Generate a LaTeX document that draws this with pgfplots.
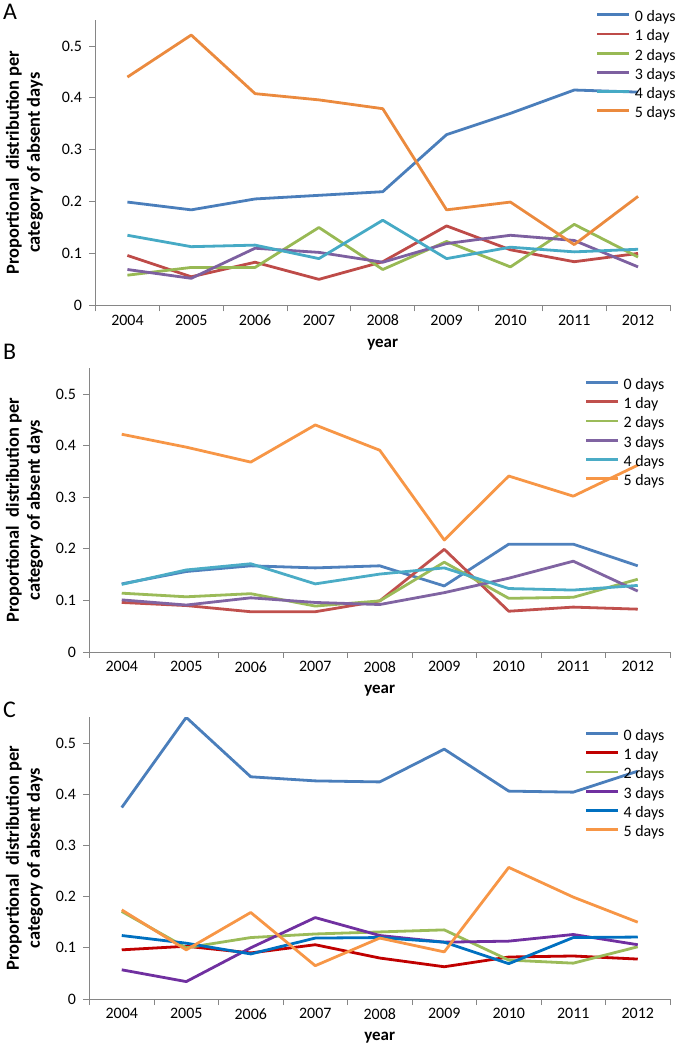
\documentclass[border=0pt]{standalone}
\usepackage{pgfplots}
\pgfplotsset{compat=1.18}
\usepackage{pgfplotstable}
\usepackage{fontspec}
\setmainfont{Carlito}

\definecolor{aA0}{HTML}{4A7EBB}
\definecolor{aA1}{HTML}{BE4B48}
\definecolor{aA2}{HTML}{98B954}
\definecolor{aA3}{HTML}{7D60A0}
\definecolor{aA4}{HTML}{46AAC5}
\definecolor{aA5}{HTML}{EB8A3E}
\definecolor{bB0}{HTML}{4F81BD}
\definecolor{bB1}{HTML}{C0504D}
\definecolor{bB2}{HTML}{9BBB59}
\definecolor{bB3}{HTML}{8064A2}
\definecolor{bB4}{HTML}{4BACC6}
\definecolor{bB5}{HTML}{F79646}
\definecolor{cC0}{HTML}{4A7EBB}
\definecolor{cC1}{HTML}{C00000}
\definecolor{cC2}{HTML}{9BBB59}
\definecolor{cC3}{HTML}{7030A0}
\definecolor{cC4}{HTML}{0070C0}
\definecolor{cC5}{HTML}{F79646}
\definecolor{axgray}{HTML}{868686}

\pgfplotstableread{
x d0 d1 d2 d3 d4 d5
0 0.199 0.096 0.058 0.069 0.135 0.440
1 0.184 0.055 0.073 0.052 0.113 0.521
2 0.205 0.083 0.073 0.110 0.116 0.408
3 0.212 0.050 0.150 0.102 0.090 0.396
4 0.219 0.084 0.069 0.083 0.164 0.379
5 0.329 0.153 0.123 0.119 0.090 0.184
6 0.370 0.107 0.074 0.135 0.112 0.199
7 0.415 0.084 0.156 0.125 0.103 0.117
8 0.411 0.100 0.093 0.074 0.108 0.210
}\tabA
\pgfplotstableread{
x d0 d1 d2 d3 d4 d5
0 0.132 0.096 0.114 0.101 0.131 0.422
1 0.156 0.090 0.107 0.091 0.159 0.397
2 0.167 0.078 0.113 0.105 0.171 0.368
3 0.163 0.078 0.089 0.096 0.132 0.440
4 0.167 0.099 0.099 0.092 0.151 0.391
5 0.128 0.199 0.174 0.115 0.163 0.217
6 0.209 0.079 0.104 0.143 0.123 0.341
7 0.209 0.087 0.106 0.176 0.120 0.302
8 0.167 0.083 0.141 0.118 0.129 0.362
}\tabB
\pgfplotstableread{
x d0 d1 d2 d3 d4 d5
0 0.374 0.096 0.171 0.057 0.124 0.174
1 0.550 0.103 0.100 0.034 0.109 0.096
2 0.434 0.090 0.120 0.100 0.088 0.169
3 0.426 0.106 0.127 0.159 0.119 0.065
4 0.424 0.080 0.131 0.124 0.120 0.119
5 0.488 0.063 0.135 0.111 0.111 0.092
6 0.406 0.082 0.076 0.113 0.069 0.257
7 0.404 0.084 0.070 0.126 0.120 0.199
8 0.445 0.078 0.102 0.106 0.121 0.150
}\tabC

\pgfplotsset{
  panel/.style={
    anchor=south west, scale only axis,
    xmin=-0.5, xmax=8.5, ymin=0, ymax=0.55,
    axis x line=bottom, axis y line=left,
    axis line style={-, draw=axgray, line width=0.8bp},
    xtick={0,...,8},
    xticklabels={2004,2005,2006,2007,2008,2009,2010,2011,2012},
    minor xtick={-0.5,0.5,1.5,2.5,3.5,4.5,5.5,6.5,7.5,8.5},
    major x tick style={draw=none},
    tick style={draw=axgray, line width=0.8bp},
    tick align=outside,
    major tick length=6bp, minor tick length=6bp,
    ytick={0,0.1,0.2,0.3,0.4,0.5},
    yticklabels={0,0.1,0.2,0.3,0.4,0.5},
    tick label style={font=\fontsize{16}{19}\selectfont, text=black},
    yticklabel style={xshift=-4bp},
    /pgf/number format/assume math mode=true,
    xlabel={year},
    xlabel style={font=\bfseries\fontsize{17}{19}\selectfont, at={(axis description cs:0.5,0)}, anchor=center, yshift=-39bp},
    ylabel style={font=\bfseries\fontsize{18.5}{21}\selectfont, align=center, anchor=center},
    ylabel={Proportional\ \ distribution per\\category of absent days},
    legend cell align=left,
    legend image code/.code={\draw[#1, line width=2.8bp] (0bp,4.5bp) -- (32bp,4.5bp);},
    legend style={draw=none, fill=none, inner sep=0pt, column sep=4bp, row sep=0pt,
      font=\fontsize{16}{19}\selectfont,
      nodes={inner sep=0pt, text height=12bp, text depth=7.2bp}},
    every axis plot post/.append style={line width=2.8bp, line join=round},
  }
}

\begin{document}
\begin{tikzpicture}
\useasboundingbox (0,0) rectangle (675bp,1047bp);
% Panel A
\begin{axis}[panel, at={(95.5bp,741.7bp)}, width=574.5bp, height=285.3bp,
  ylabel style={at={(axis description cs:-0.1236,0.5)}},
  legend style={at={(axis description cs:0.871,1.0365)}, anchor=north west}]
\addplot[color=aA0] table[x=x,y=d0]{\tabA};
\addplot[color=aA1] table[x=x,y=d1]{\tabA};
\addplot[color=aA2] table[x=x,y=d2]{\tabA};
\addplot[color=aA3] table[x=x,y=d3]{\tabA};
\addplot[color=aA4] table[x=x,y=d4]{\tabA};
\addplot[color=aA5] table[x=x,y=d5]{\tabA};
\legend{0 days,1 day,2 days,3 days,4 days,5 days}
\end{axis}
\node[font=\fontsize{24}{26}\selectfont, anchor=base west, inner sep=0pt] at (3bp,1047bp-19.3bp) {A};
% Panel B
\begin{axis}[panel, at={(89.5bp,395bp)}, width=580.5bp, height=283.8bp,
  ylabel style={at={(axis description cs:-0.112,0.5)}},
  legend style={at={(axis description cs:0.853,0.968)}, anchor=north west}]
\addplot[color=bB0] table[x=x,y=d0]{\tabB};
\addplot[color=bB1] table[x=x,y=d1]{\tabB};
\addplot[color=bB2] table[x=x,y=d2]{\tabB};
\addplot[color=bB3] table[x=x,y=d3]{\tabB};
\addplot[color=bB4] table[x=x,y=d4]{\tabB};
\addplot[color=bB5] table[x=x,y=d5]{\tabB};
\legend{0 days,1 day,2 days,3 days,4 days,5 days}
\end{axis}
\node[font=\fontsize{24}{26}\selectfont, anchor=base west, inner sep=0pt] at (3bp,1047bp-360bp) {B};
% Panel C
\begin{axis}[panel, at={(89.5bp,48bp)}, width=580.5bp, height=281.6bp,
  ylabel style={at={(axis description cs:-0.112,0.5)}},
  legend style={at={(axis description cs:0.853,0.961)}, anchor=north west}]
\addplot[color=cC0] table[x=x,y=d0]{\tabC};
\addplot[color=cC1] table[x=x,y=d1]{\tabC};
\addplot[color=cC2] table[x=x,y=d2]{\tabC};
\addplot[color=cC3] table[x=x,y=d3]{\tabC};
\addplot[color=cC4] table[x=x,y=d4]{\tabC};
\addplot[color=cC5] table[x=x,y=d5]{\tabC};
\legend{0 days,1 day,2 days,3 days,4 days,5 days}
\end{axis}
\node[font=\fontsize{24}{26}\selectfont, anchor=base west, inner sep=0pt] at (3bp,1047bp-718bp) {C};
\end{tikzpicture}
\end{document}
